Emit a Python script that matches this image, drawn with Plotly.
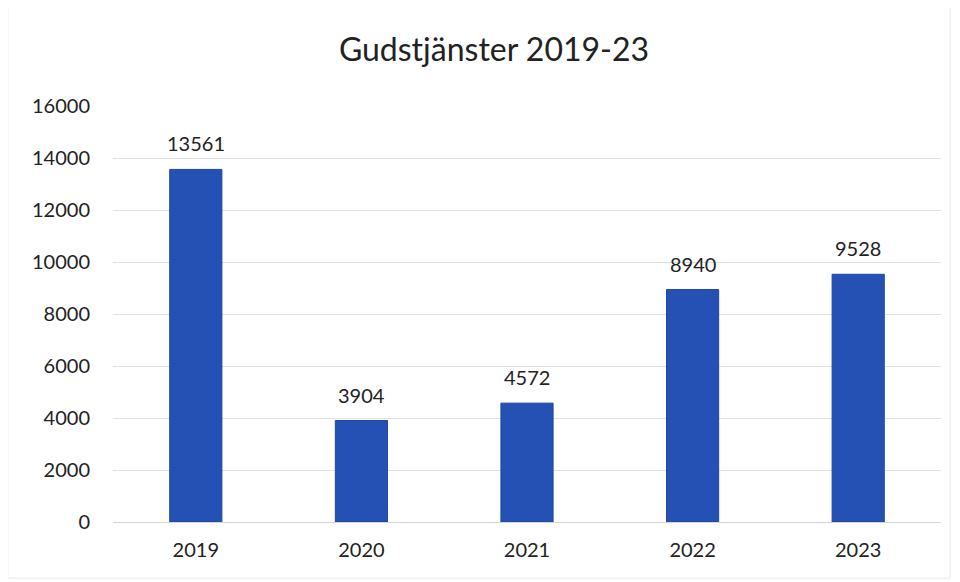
import plotly.graph_objects as go

years = ["2019", "2020", "2021", "2022", "2023"]
values = [13561, 3904, 4572, 8940, 9528]
y_ticks = [0, 2000, 4000, 6000, 8000, 10000, 12000, 14000, 16000]

FONT = "Lato, Open Sans, sans-serif"

fig = go.Figure(
    go.Bar(
        x=years,
        y=values,
        marker=dict(color="#2451B3", line=dict(color="#1E47A0", width=1)),
        width=0.315,
        hoverinfo="x+y",
    )
)

# data labels: category index positions on the category axis
for i, v in enumerate(values):
    fig.add_annotation(
        x=i, y=v, text=str(v), showarrow=False,
        yanchor="bottom", yshift=12,
        font=dict(size=20, color="#222222", family=FONT),
    )

# page body has an 8px margin, so the figure is sized/margined to compensate
fig.update_layout(
    width=952,
    height=574,
    paper_bgcolor="white",
    plot_bgcolor="white",
    margin=dict(l=105, r=19, t=98, b=60),
    title=dict(
        text="Gudstjänster 2019-23",
        x=(494 - 8) / 952,
        xanchor="center",
        y=1 - (50 - 8) / 574,
        yanchor="middle",
        font=dict(size=32, color="#222222", family=FONT),
    ),
    showlegend=False,
    font=dict(family=FONT, color="#222222"),
)

fig.update_yaxes(
    range=[0, 16000],
    tickvals=y_ticks,
    ticktext=[str(t) for t in y_ticks],
    showgrid=True,
    gridcolor="#E0E0E0",
    gridwidth=1,
    zeroline=True,
    zerolinecolor="#D4D4D4",
    zerolinewidth=1,
    tickfont=dict(size=20, color="#222222"),
    ticklabelstandoff=22,
    showline=False,
)
fig.update_xaxes(
    type="category",
    categoryorder="array",
    categoryarray=years,
    range=[-0.5, len(years) - 0.5],
    tickfont=dict(size=20, color="#222222"),
    ticklabelstandoff=14,
    showline=False,
    showgrid=False,
)

fig.add_shape(
    type="rect", xref="paper", yref="paper",
    x0=-0.127, x1=1.011, y0=-0.135, y1=1.243,
    line=dict(color="#EAEAEA", width=1),
    layer="below",
)

fig.write_html("out.html")
